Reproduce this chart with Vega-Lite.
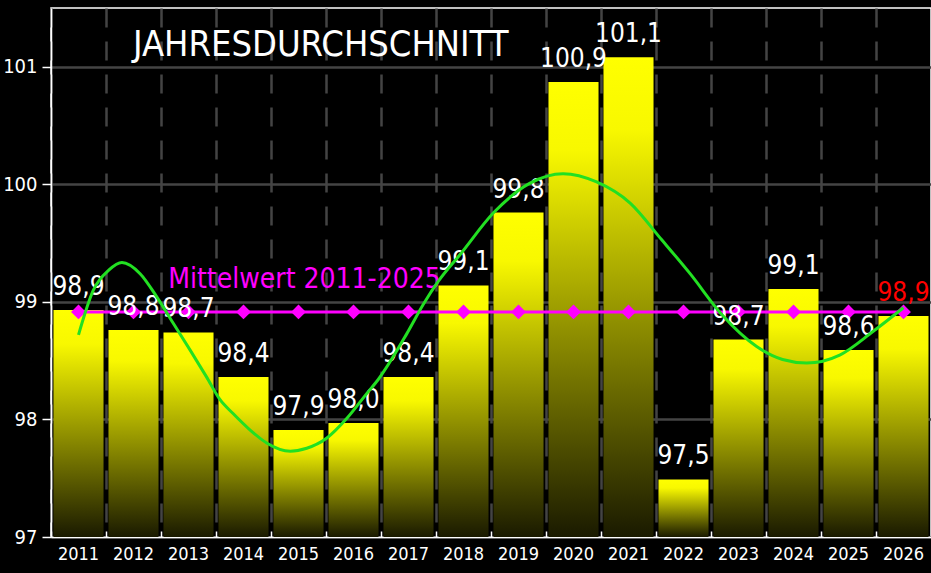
{
  "$schema": "https://vega.github.io/schema/vega-lite/v6.json",
  "autosize": {"type": "none"},
  "padding": {"left": 51, "top": 8, "right": 0, "bottom": 36},
  "width": 880,
  "height": 529,
  "background": "#000000",
  "config": {
    "view": {"stroke": "#ffffff", "strokeWidth": 1.5},
    "font": "DejaVu Sans Condensed"
  },
  "title": {
    "text": "JAHRESDURCHSCHNITT",
    "anchor": "start",
    "frame": "group",
    "dx": 82,
    "offset": -84,
    "baseline": "alphabetic",
    "font": "DejaVu Sans Condensed",
    "fontSize": 36,
    "fontWeight": "normal",
    "color": "#ffffff"
  },
  "datasets": {
    "bars": [
      {"year": "2011", "value": 98.93, "label": "98,9", "mean": 98.915},
      {"year": "2012", "value": 98.76, "label": "98,8", "mean": 98.915},
      {"year": "2013", "value": 98.74, "label": "98,7", "mean": 98.915},
      {"year": "2014", "value": 98.36, "label": "98,4", "mean": 98.915},
      {"year": "2015", "value": 97.91, "label": "97,9", "mean": 98.915},
      {"year": "2016", "value": 97.97, "label": "98,0", "mean": 98.915},
      {"year": "2017", "value": 98.36, "label": "98,4", "mean": 98.915},
      {"year": "2018", "value": 99.14, "label": "99,1", "mean": 98.915},
      {"year": "2019", "value": 99.76, "label": "99,8", "mean": 98.915},
      {"year": "2020", "value": 100.87, "label": "100,9", "mean": 98.915},
      {"year": "2021", "value": 101.08, "label": "101,1", "mean": 98.915},
      {"year": "2022", "value": 97.49, "label": "97,5", "mean": 98.915},
      {"year": "2023", "value": 98.68, "label": "98,7", "mean": 98.915},
      {"year": "2024", "value": 99.11, "label": "99,1", "mean": 98.915},
      {"year": "2025", "value": 98.59, "label": "98,6", "mean": 98.915},
      {"year": "2026", "value": 98.88, "label": "98,9", "mean": 98.915}
    ],
    "trend": [
      {"t": 2011.00, "v": 98.72},
      {"t": 2011.27, "v": 99.10},
      {"t": 2011.55, "v": 99.27},
      {"t": 2011.79, "v": 99.335},
      {"t": 2012.12, "v": 99.24},
      {"t": 2012.42, "v": 99.045},
      {"t": 2012.72, "v": 98.82},
      {"t": 2013.03, "v": 98.59},
      {"t": 2013.33, "v": 98.36},
      {"t": 2013.57, "v": 98.17},
      {"t": 2013.81, "v": 98.05},
      {"t": 2014.12, "v": 97.91},
      {"t": 2014.42, "v": 97.80},
      {"t": 2014.85, "v": 97.73},
      {"t": 2015.15, "v": 97.755},
      {"t": 2015.51, "v": 97.84},
      {"t": 2015.88, "v": 98.01},
      {"t": 2016.24, "v": 98.22},
      {"t": 2016.45, "v": 98.34},
      {"t": 2016.97, "v": 98.73},
      {"t": 2017.27, "v": 98.98},
      {"t": 2017.55, "v": 99.18},
      {"t": 2017.95, "v": 99.41},
      {"t": 2018.55, "v": 99.76},
      {"t": 2019.21, "v": 100.01},
      {"t": 2019.81, "v": 100.09},
      {"t": 2020.42, "v": 100.02},
      {"t": 2021.03, "v": 99.84},
      {"t": 2021.60, "v": 99.53},
      {"t": 2022.12, "v": 99.24},
      {"t": 2022.70, "v": 98.89},
      {"t": 2023.33, "v": 98.62},
      {"t": 2023.80, "v": 98.51},
      {"t": 2024.24, "v": 98.48},
      {"t": 2024.85, "v": 98.55},
      {"t": 2025.45, "v": 98.75},
      {"t": 2026.00, "v": 98.95}
    ]
  },
  "layer": [
    {
      "data": {"name": "bars"},
      "encoding": {
        "x": {
          "field": "year", "type": "ordinal",
          "scale": {"type": "band", "paddingInner": 0, "paddingOuter": 0},
          "axis": {
            "orient": "bottom",
            "title": null,
            "labelAngle": 0,
            "labelColor": "#ffffff",
            "labelFont": "DejaVu Sans Condensed",
            "labelFontSize": 18,
            "labelPadding": 14,
            "bandPosition": 0,
            "domainColor": "#ffffff",
            "domainWidth": 1.5,
            "tickColor": "#ffffff",
            "tickSize": -6,
            "tickWidth": 1.5,
            "grid": true,
            "gridColor": "#444444",
            "gridWidth": 2.5,
            "gridDash": [19, 14]
          }
        }
      },
      "layer": [
        {
          "mark": {
            "type": "bar",
            "width": {"band": 0.91},
            "fill": {
              "gradient": "linear",
              "x1": 0, "y1": 0, "x2": 0, "y2": 1,
              "stops": [
                {"offset": 0, "color": "#ffff00"},
                {"offset": 0.15, "color": "#f8f800"},
                {"offset": 1, "color": "#1a1a00"}
              ]
            }
          },
          "encoding": {
            "y": {
              "field": "value", "type": "quantitative",
              "scale": {"domain": [97, 101.5], "zero": false, "nice": false},
              "axis": {
                "title": null,
                "values": [97, 98, 99, 100, 101],
                "format": "d",
                "labelColor": "#ffffff",
                "labelFont": "DejaVu Sans Condensed",
                "labelFontSize": 20,
                "labelPadding": 5,
                "domainColor": "#ffffff",
                "domainWidth": 1.5,
                "tickColor": "#ffffff",
                "tickSize": 9,
                "tickWidth": 1.5,
                "grid": true,
                "gridColor": "#444444",
                "gridWidth": 2.5
              }
            },
            "y2": {"datum": 97}
          }
        },
        {
          "mark": {"type": "line", "color": "#ff00ff", "strokeWidth": 3},
          "encoding": {
            "y": {"field": "mean", "type": "quantitative"}
          }
        },
        {
          "mark": {"type": "point", "shape": "diamond", "filled": true, "color": "#ff00ff", "opacity": 1, "size": 220},
          "encoding": {
            "y": {"field": "mean", "type": "quantitative"}
          }
        },
        {
          "mark": {"type": "text", "baseline": "alphabetic", "align": "center", "dy": -15, "font": "DejaVu Sans Condensed", "fontSize": 26},
          "encoding": {
            "y": {"field": "value", "type": "quantitative"},
            "text": {"field": "label"},
            "color": {
              "condition": {"test": "datum.year === '2026'", "value": "#ff0000"},
              "value": "#ffffff"
            }
          }
        },
        {
          "transform": [{"filter": "datum.year === '2015'"}],
          "mark": {"type": "text", "baseline": "alphabetic", "align": "center", "dx": 6, "dy": -24, "font": "DejaVu Sans Condensed", "fontSize": 28, "color": "#ff00ff", "text": "Mittelwert 2011-2025"},
          "encoding": {
            "y": {"field": "mean", "type": "quantitative"}
          }
        }
      ]
    },
    {
      "data": {"name": "trend"},
      "mark": {"type": "line", "color": "#22e022", "strokeWidth": 3, "interpolate": "monotone"},
      "encoding": {
        "x": {"field": "t", "type": "quantitative", "scale": {"domain": [2010.5, 2026.5], "nice": false, "zero": false}, "axis": null},
        "y": {"field": "v", "type": "quantitative"}
      }
    }
  ],
  "resolve": {"scale": {"x": "independent"}, "axis": {"x": "independent"}}
}
